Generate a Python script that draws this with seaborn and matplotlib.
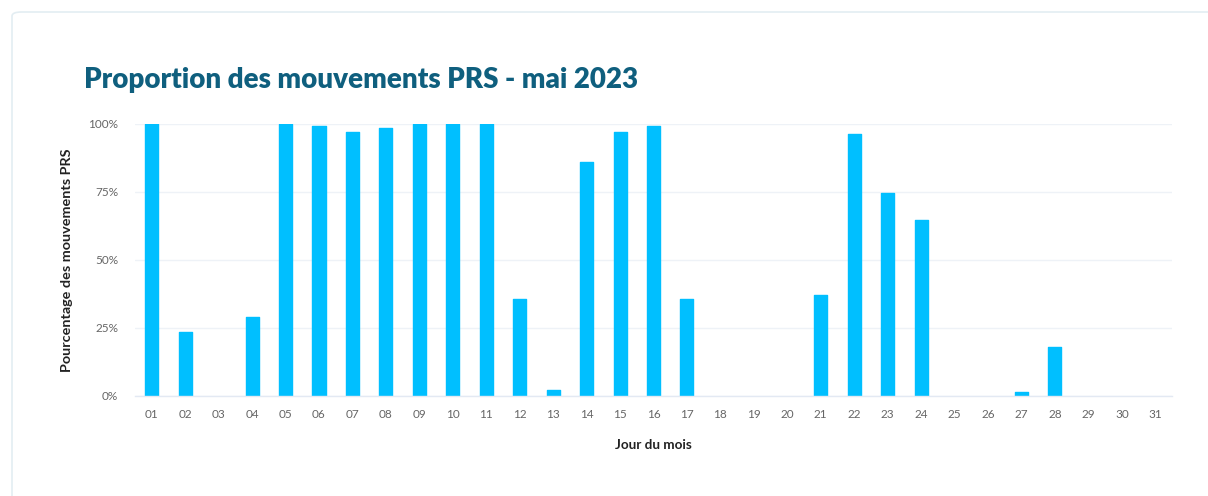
import matplotlib
matplotlib.use("Agg")
import matplotlib.pyplot as plt
from matplotlib.patches import FancyBboxPatch
from matplotlib.ticker import FuncFormatter
import seaborn as sns
import pandas as pd

# ---- data ----
days = [f"{d:02d}" for d in range(1, 32)]
pct_prs = [100, 23.5, 0, 29.2, 100, 99.3, 97.2, 98.4, 100, 100, 100, 35.5, 2.2,
           85.9, 96.9, 99.1, 35.5, 0, 0, 0, 37.1, 96.2, 74.5, 64.7, 0, 0, 1.5,
           17.9, 0, 0, 0]
title = "Proportion des mouvements PRS - mai 2023"
xlabel = "Jour du mois"
ylabel = "Pourcentage des mouvements PRS"
y_ticks = [0, 25, 50, 75, 100]

df = pd.DataFrame({"jour": days, "pct": pct_prs})

sns.set_theme(style="white")
plt.rcParams["font.family"] = ["Lato", "DejaVu Sans"]

fig = plt.figure(figsize=(12.08, 4.96), dpi=100)
fig.patch.set_facecolor("white")

# card border
card = FancyBboxPatch((12 / 1208, -0.05), 1.2, 1.0 - 12 / 496 + 0.05,
                      boxstyle="round,pad=0,rounding_size=0.008",
                      transform=fig.transFigure, facecolor="none",
                      edgecolor="#e3edf2", linewidth=1.2, zorder=-10)
fig.patches.append(card)

ax = fig.add_axes([135 / 1208, 1 - 396 / 496, (1172 - 135) / 1208, (396 - 124) / 496])
ax.set_facecolor("none")

sns.barplot(data=df, x="jour", y="pct", color="#00bfff", saturation=1,
            width=0.39, ax=ax, zorder=3)
for p in ax.patches:
    if p.get_height() > 0:
        p.set_edgecolor("#00bfff")
        p.set_linewidth(1.0)
        p.set_joinstyle("round")
    else:
        p.set_linewidth(0)

ax.set_xlim(-0.5, 30.5)
ax.set_ylim(0, 100)
ax.set_yticks(y_ticks)
ax.yaxis.set_major_formatter(FuncFormatter(lambda v, _: f"{int(v)}%"))
ax.grid(axis="y", color="#eef2f7", linewidth=1, zorder=0)
ax.grid(axis="x", visible=False)
for s in ["top", "right", "left"]:
    ax.spines[s].set_visible(False)
ax.spines["bottom"].set_color("#e3e9f3")
ax.spines["bottom"].set_linewidth(1)
ax.spines["bottom"].set_zorder(4)
ax.tick_params(axis="both", length=0, labelsize=8.5, colors="#666666")
ax.tick_params(axis="x", pad=9)
ax.tick_params(axis="y", pad=12)

ax.set_xlabel(xlabel, fontsize=9.7, fontweight="bold", color="#222222", labelpad=14)
ax.set_ylabel(ylabel, fontsize=10.4, fontweight="bold", color="#222222", labelpad=11)

fig.text(84 / 1208, 1 - 88 / 496, title, fontsize=20.0, fontweight="heavy",
         color="#0f5f7e", ha="left", va="baseline")

fig.savefig("out.png", dpi=100, facecolor="white")
